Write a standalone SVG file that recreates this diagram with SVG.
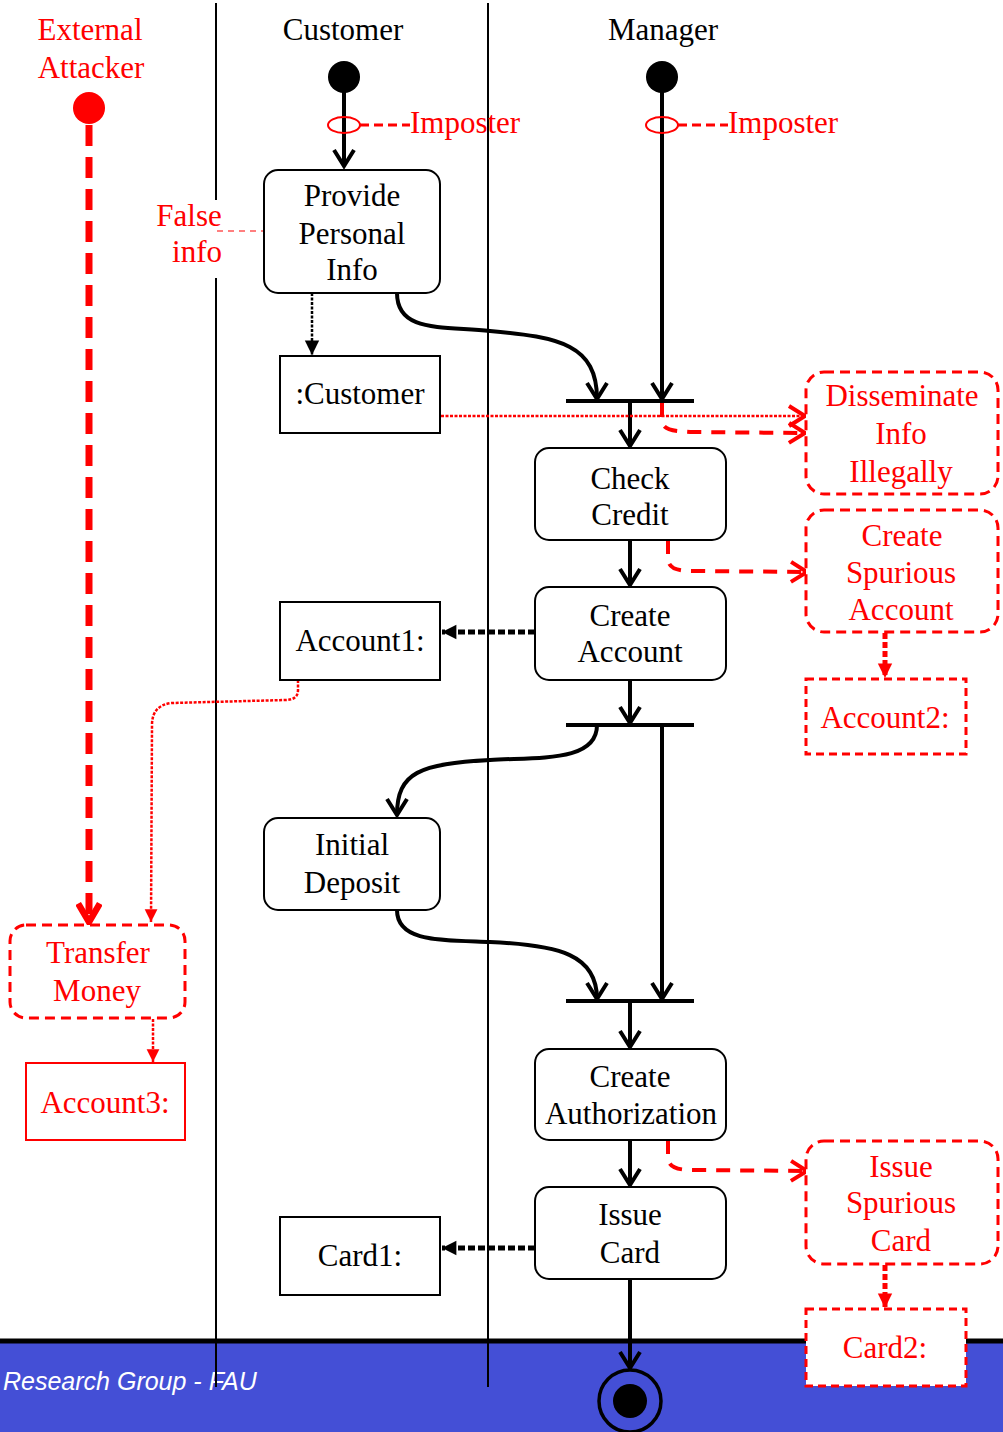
<svg xmlns="http://www.w3.org/2000/svg" width="1003" height="1432" viewBox="0 0 1003 1432">
<style>
text{font-family:"Liberation Serif","Times New Roman",serif;font-size:31px;text-anchor:middle}
.k{fill:#000}
.r{fill:#ff0000}
.act{fill:#fff;stroke:#000;stroke-width:2}
.obj{fill:#fff;stroke:#000;stroke-width:2}
.ract{fill:#fff;stroke:#ff0000;stroke-width:3;stroke-dasharray:10,6}
.robj{fill:#fff;stroke:#ff0000;stroke-width:3;stroke-dasharray:8,5}
.flow{fill:none;stroke:#000;stroke-width:4;marker-end:url(#open)}
.bar{stroke:#000;stroke-width:4}
.lane{stroke:#000;stroke-width:2}
.rdash{fill:none;stroke:#ff0000;stroke-width:4;stroke-dasharray:14,10;marker-end:url(#ropen)}
.objflow{fill:none;stroke:#000;stroke-width:5;stroke-dasharray:7,3;marker-end:url(#tri)}
.robjflow{fill:none;stroke:#ff0000;stroke-width:5;stroke-dasharray:6,3;marker-end:url(#rtri)}
.rdot{fill:none;stroke:#ff0000;stroke-width:2.5;stroke-dasharray:3,1.5}
</style>
<defs>
<marker id="open" markerUnits="userSpaceOnUse" viewBox="0 0 24 24" markerWidth="24" markerHeight="24" refX="21" refY="12" orient="auto">
<path d="M5,2 L21,12 L5,22" fill="none" stroke="#000" stroke-width="4"/>
</marker>
<marker id="ropen" markerUnits="userSpaceOnUse" viewBox="0 0 24 24" markerWidth="24" markerHeight="24" refX="21" refY="12" orient="auto">
<path d="M5,2 L21,12 L5,22" fill="none" stroke="#ff0000" stroke-width="4"/>
</marker>
<marker id="tri" markerUnits="userSpaceOnUse" viewBox="0 0 20 20" markerWidth="18" markerHeight="18" refX="18" refY="10" orient="auto">
<path d="M2,2 L18,10 L2,18 Z" fill="#000"/>
</marker>
<marker id="rtri" markerUnits="userSpaceOnUse" viewBox="0 0 20 20" markerWidth="18" markerHeight="18" refX="18" refY="10" orient="auto">
<path d="M2,2 L18,10 L2,18 Z" fill="#ff0000"/>
</marker>
<marker id="rtriS" markerUnits="userSpaceOnUse" viewBox="0 0 20 20" markerWidth="16" markerHeight="16" refX="18" refY="10" orient="auto">
<path d="M2,2 L18,10 L2,18 Z" fill="#ff0000"/>
</marker>
<marker id="rbig" markerUnits="userSpaceOnUse" viewBox="0 0 24 24" markerWidth="26" markerHeight="26" refX="21" refY="12" orient="auto">
<path d="M4,2 L21,12 L4,22" fill="none" stroke="#ff0000" stroke-width="6"/>
</marker>
</defs>

<!-- footer -->
<rect x="0" y="1342" width="1003" height="90" fill="#444fd6"/>
<line x1="0" y1="1341" x2="1003" y2="1341" stroke="#000" stroke-width="5"/>
<text x="3" y="1390" style="font-family:'Liberation Sans',Arial,sans-serif;font-size:25px;font-style:italic;text-anchor:start;fill:#fff">Research Group - FAU</text>

<!-- swimlanes -->
<g id="lanes">
<line class="lane" x1="216" y1="3" x2="216" y2="200"/>
<line class="lane" x1="216" y1="278" x2="216" y2="1387"/>
<line class="lane" x1="488" y1="3" x2="488" y2="1387"/>
<text class="r" x="90" y="40">External</text>
<text class="r" x="91" y="78">Attacker</text>
<text class="k" x="343" y="40">Customer</text>
<text class="k" x="663" y="40">Manager</text>
</g>

<!-- connectors -->
<g id="connectors">
<path class="flow" d="M344,90 L344,166"/>
<path class="flow" d="M662,90 L662,399"/>
<path class="flow" d="M397,293 C397,332 440,326 490,331 C560,337 597,345 597,399"/>
<path class="flow" d="M630,401 L630,446"/>
<path class="flow" d="M630,540 L630,585"/>
<path class="flow" d="M630,680 L630,723"/>
<path class="flow" d="M597,725 C597,762 540,757 490,760 C420,764 397,772 397,815"/>
<path class="flow" d="M662,725 L662,999"/>
<path class="flow" d="M397,910 C397,942 440,940 490,942 C560,945 597,955 597,999"/>
<path class="flow" d="M630,1001 L630,1047"/>
<path class="flow" d="M630,1140 L630,1185"/>
<path class="flow" d="M630,1279 L630,1368"/>
<path d="M312,293 L312,355" fill="none" stroke="#000" stroke-width="2.5" stroke-dasharray="3,1.5" marker-end="url(#tri)"/>
<path class="objflow" d="M535,632 L442,632"/>
<path class="objflow" d="M535,1248 L442,1248"/>
<!-- attacks -->
<path d="M89,125 L89,922" fill="none" stroke="#ff0000" stroke-width="7" stroke-dasharray="21,11" marker-end="url(#rbig)"/>
<path d="M441,416 L805,416" fill="none" stroke="#ff0000" stroke-width="2.5" stroke-dasharray="3,1.5" marker-end="url(#ropen)"/>
<path class="rdash" d="M662,403 L662,420 C662,431 675,431 690,432 L805,433"/>
<path class="rdash" d="M668,540 L668,558 C668,570 680,571 695,571 L807,572"/>
<path class="rdash" d="M668,1140 L668,1157 C668,1169 680,1170 695,1170 L807,1171"/>
<path class="robjflow" d="M885,633 L885,678"/>
<path class="robjflow" d="M885,1265 L885,1308"/>
<path class="rdot" d="M298,680 L298,690 Q298,700 285,700 L172,703 Q152,705 152,725 L151,922" marker-end="url(#rtriS)"/>
<path class="rdot" d="M153,1019 L153,1062" marker-end="url(#rtriS)"/>
<path d="M217,231 L264,231" fill="none" stroke="#ff0000" stroke-width="1.2" stroke-dasharray="6,5"/>
<path d="M360,125 L410,125" fill="none" stroke="#ff0000" stroke-width="3" stroke-dasharray="9,5"/>
<path d="M678,125 L728,125" fill="none" stroke="#ff0000" stroke-width="3" stroke-dasharray="9,5"/>
<line class="bar" x1="566" y1="401" x2="694" y2="401"/>
<line class="bar" x1="566" y1="725" x2="694" y2="725"/>
<line class="bar" x1="566" y1="1001" x2="694" y2="1001"/>
</g>

<!-- start / end nodes -->
<g id="start-customer"><circle cx="344" cy="77" r="16" fill="#000"/></g>
<g id="start-manager"><circle cx="662" cy="77" r="16" fill="#000"/></g>
<g id="start-attacker"><circle cx="89" cy="108" r="16" fill="#ff0000"/></g>
<g id="end"><circle cx="630" cy="1401" r="31" fill="none" stroke="#000" stroke-width="3.5"/><circle cx="630" cy="1401" r="17" fill="#000"/></g>

<!-- imposter annotations -->
<g id="imposter-customer">
<ellipse cx="344" cy="125" rx="16" ry="8" fill="none" stroke="#ff0000" stroke-width="2"/>
<text class="r" x="410" y="133" style="text-anchor:start">Imposter</text>
</g>
<g id="imposter-manager">
<ellipse cx="662" cy="125" rx="16" ry="8" fill="none" stroke="#ff0000" stroke-width="2"/>
<text class="r" x="728" y="133" style="text-anchor:start">Imposter</text>
</g>
<g id="false-info">
<text class="r" x="189" y="226">False</text>
<text class="r" x="197" y="262">info</text>
</g>

<!-- activities -->
<g id="provide-personal-info">
<rect class="act" x="264" y="170" width="176" height="123" rx="14"/>
<text class="k" x="352" y="206">Provide</text>
<text class="k" x="352" y="244">Personal</text>
<text class="k" x="352" y="280">Info</text>
</g>
<g id="customer-obj">
<rect class="obj" x="280" y="356" width="160" height="77"/>
<text class="k" x="360" y="404">:Customer</text>
</g>
<g id="check-credit">
<rect class="act" x="535" y="448" width="191" height="92" rx="14"/>
<text class="k" x="630" y="489">Check</text>
<text class="k" x="630" y="525">Credit</text>
</g>
<g id="create-account">
<rect class="act" x="535" y="587" width="191" height="93" rx="14"/>
<text class="k" x="630" y="626">Create</text>
<text class="k" x="630" y="662">Account</text>
</g>
<g id="account1">
<rect class="obj" x="280" y="602" width="160" height="78"/>
<text class="k" x="360" y="651">Account1:</text>
</g>
<g id="initial-deposit">
<rect class="act" x="264" y="818" width="176" height="92" rx="14"/>
<text class="k" x="352" y="855">Initial</text>
<text class="k" x="352" y="893">Deposit</text>
</g>
<g id="create-authorization">
<rect class="act" x="535" y="1049" width="191" height="91" rx="14"/>
<text class="k" x="630" y="1087">Create</text>
<text class="k" x="631" y="1124">Authorization</text>
</g>
<g id="issue-card">
<rect class="act" x="535" y="1187" width="191" height="92" rx="14"/>
<text class="k" x="630" y="1225">Issue</text>
<text class="k" x="630" y="1263">Card</text>
</g>
<g id="card1">
<rect class="obj" x="280" y="1217" width="160" height="78"/>
<text class="k" x="360" y="1266">Card1:</text>
</g>

<!-- attack nodes -->
<g id="disseminate">
<rect class="ract" x="806" y="372" width="192" height="122" rx="18"/>
<text class="r" x="902" y="406">Disseminate</text>
<text class="r" x="901" y="444">Info</text>
<text class="r" x="901" y="482">Illegally</text>
</g>
<g id="create-spurious-account">
<rect class="ract" x="806" y="510" width="192" height="122" rx="18"/>
<text class="r" x="902" y="546">Create</text>
<text class="r" x="901" y="583">Spurious</text>
<text class="r" x="901" y="620">Account</text>
</g>
<g id="account2">
<rect class="robj" x="806" y="679" width="160" height="75"/>
<text class="r" x="885" y="728">Account2:</text>
</g>
<g id="transfer-money">
<rect class="ract" x="10" y="925" width="175" height="93" rx="16"/>
<text class="r" x="98" y="963">Transfer</text>
<text class="r" x="97" y="1001">Money</text>
</g>
<g id="account3">
<rect x="26" y="1063" width="159" height="77" fill="#fff" stroke="#ff0000" stroke-width="2"/>
<text class="r" x="105" y="1113">Account3:</text>
</g>
<g id="issue-spurious-card">
<rect class="ract" x="806" y="1141" width="192" height="123" rx="18"/>
<text class="r" x="901" y="1177">Issue</text>
<text class="r" x="901" y="1213">Spurious</text>
<text class="r" x="901" y="1251">Card</text>
</g>
<g id="card2">
<rect class="robj" x="806" y="1309" width="160" height="77"/>
<text class="r" x="885" y="1358">Card2:</text>
</g>
</svg>
